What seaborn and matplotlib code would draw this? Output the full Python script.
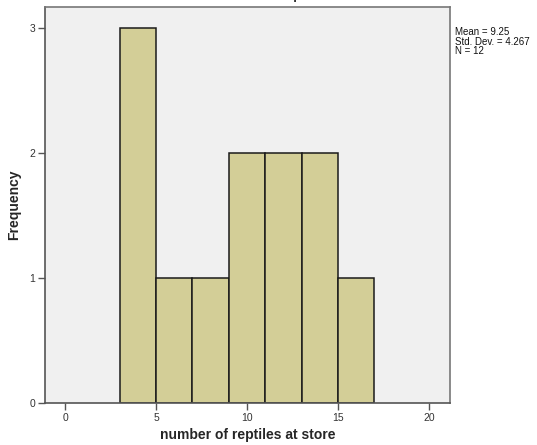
import matplotlib
matplotlib.use("Agg")
import matplotlib.pyplot as plt
import seaborn as sns
import numpy as np

# histogram
bin_edges = [3, 5, 7, 9, 11, 13, 15, 17]
counts = [3, 1, 1, 2, 2, 2, 1]
x_ticks = [0, 5, 10, 15, 20]
y_ticks = [0, 1, 2, 3]
stats_text = "Mean = 9.25\nStd. Dev. = 4.267\nN = 12"
title = "number of reptiles at store"
xlabel = "number of reptiles at store"
ylabel = "Frequency"

centers = [(a + b) / 2 for a, b in zip(bin_edges[:-1], bin_edges[1:])]

sns.set_style("white")
plt.rcParams['font.family'] = ['Liberation Sans', 'DejaVu Sans']

fig = plt.figure(figsize=(5.37, 4.45), dpi=100)
ax = fig.add_axes([45 / 537, 42 / 445, 405 / 537, 396 / 445])
ax.set_facecolor("#f0f0f0")

sns.histplot(x=centers, weights=counts, bins=bin_edges, color="#d3ce97",
             edgecolor="#1a1a1a", linewidth=1.1, alpha=1, ax=ax)

ax.set_xlim(-1.1, 21.15)
ax.set_ylim(0, 3.17)
ax.set_xticks(x_ticks)
ax.set_yticks(y_ticks)
ax.tick_params(axis='both', direction='out', length=5, width=1, color="#555555",
               labelsize=7.5, labelcolor="#333333", pad=2, bottom=True, left=True)

for side in ['left', 'bottom', 'top', 'right']:
    ax.spines[side].set_visible(True)
    ax.spines[side].set_color("#555555")
    ax.spines[side].set_linewidth(1.2)
ax.spines['top'].set_color("#777777")
ax.spines['right'].set_color("#777777")

ax.set_xlabel(xlabel, fontsize=10, fontweight='bold', labelpad=4)
ax.set_ylabel(ylabel, fontsize=10, fontweight='bold', labelpad=6)

fig.text(455 / 537, 1 - 27 / 445, stats_text, fontsize=7, va='top', ha='left',
         linespacing=0.95, color="#111111")
# title is clipped by the top edge in the reference
fig.text(296 / 537, 1 + 5 / 445, title, fontsize=10, fontweight='bold',
         ha='center', va='center', color="#333333")

fig.savefig("out.png", dpi=100)
